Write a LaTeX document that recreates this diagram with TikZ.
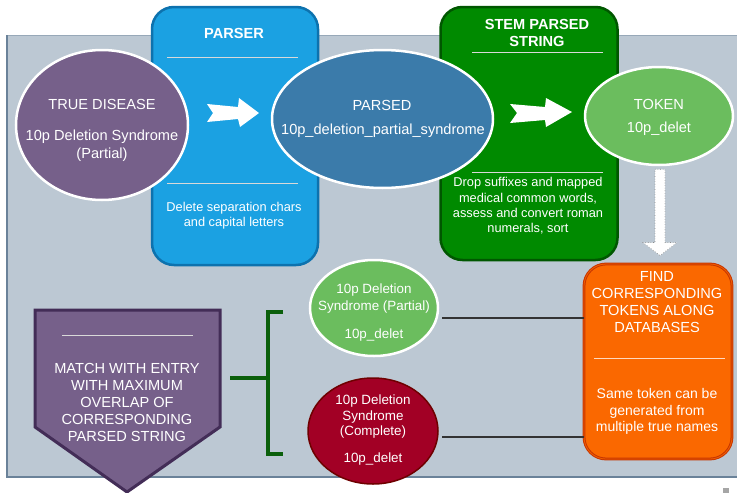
\documentclass[tikz,border=0pt]{standalone}
\usepackage{fontspec}
\setmainfont{Liberation Sans}
\usetikzlibrary{shapes.geometric,calc}
\definecolor{panelbg}{HTML}{BCC8D3}
\definecolor{panelline}{HTML}{6A8299}
\definecolor{parserblue}{HTML}{1BA1E2}
\definecolor{parserline}{HTML}{0D72AE}
\definecolor{stemgreen}{HTML}{008A00}
\definecolor{stemline}{HTML}{005700}
\definecolor{diseasepurple}{HTML}{76608A}
\definecolor{matchline}{HTML}{432D57}
\definecolor{parsedblue}{HTML}{3B7BAA}
\definecolor{tokengreen}{HTML}{6BBD5E}
\definecolor{completered}{HTML}{A20025}
\definecolor{completeline}{HTML}{6F0000}
\definecolor{findorange}{HTML}{FA6800}
\definecolor{findline}{HTML}{C73500}
\definecolor{bracegreen}{HTML}{0B5F0B}

\begin{document}
\begin{tikzpicture}[x=1pt,y=-1pt,
	stagebox/.style={rectangle,rounded corners=22pt,line width=2.5pt,inner sep=0pt},
	termcircle/.style={ellipse,draw=white,line width=2.5pt,inner sep=0pt},
	whitetext/.style={text=white,inner sep=0pt,align=center},
	rule/.style={draw=white!85!black,line width=0.8pt},
	link/.style={draw=black!80,line width=1.3pt},
	bracket/.style={draw=bracegreen,line width=4.5pt},
	blockarrow/.style={fill=white,draw=black!45,dotted,line width=0.6pt}]
	\newcommand{\mybigfont}{\fontsize{14.6}{17}\selectfont}
	\newcommand{\mymidfont}{\fontsize{13.4}{15.5}\selectfont}
	\newcommand{\mysmallfont}{\fontsize{12.8}{15.3}\selectfont}
	\useasboundingbox (0,0) rectangle (737,493);
	%Grey panel behind everything
	\fill[panelbg] (7,35) rectangle (737,477);
	\draw[panelline!70,line width=0.8pt] (737,35) -- (7,35);
	\draw[panelline,line width=1.5pt] (7,35) -- (7,477) -- (737,477);
	\fill[black!35] (723,488) rectangle (729,493);
	%Stage boxes
	\coordinate (parserC) at (235,136);
	\coordinate (stemC) at (529,133.5);
	\coordinate (findC) at (658,361.5);
	\node (parser) at (parserC) [stagebox,fill=parserblue,draw=parserline,minimum width=166pt,minimum height=258pt] {};
	\node (stem) at (stemC) [stagebox,fill=stemgreen,draw=stemline,minimum width=177pt,minimum height=253pt] {};
	\node (find) at (findC) [stagebox,fill=findorange,draw=findline,double=findorange!80!findline,double distance=0.8pt,line width=1pt,minimum width=148pt,minimum height=195pt] {};
	%Parser contents
	\node (parserTitle) at (234,33) [whitetext,font=\bfseries\mybigfont] {PARSER};
	\draw[rule] (167,57) -- (298,57);
	\draw[rule] (167,183) -- (298,183);
	\node (parserDesc) at (234,215.5) [whitetext,font=\mysmallfont] {Delete separation chars\\and capital letters};
	%Stem contents
	\node (stemTitle) at (537,33) [whitetext,font=\bfseries\mybigfont] {STEM PARSED\\STRING};
	\draw[rule] (472,52) -- (603,52);
	\draw[rule] (472,172) -- (603,172);
	\node (stemDesc) at (528,206) [whitetext,font=\mysmallfont] {Drop suffixes and mapped\\medical common words,\\assess and convert roman\\numerals, sort};
	%Find contents
	\node (findTitle) at (657,302) [whitetext,font=\fontsize{14.6}{16.7}\selectfont] {FIND\\CORRESPONDING\\TOKENS ALONG\\DATABASES};
	\draw[rule,draw=white!75!findorange] (594,358) -- (725,358);
	\node (findDesc) at (657,411.5) [whitetext,font=\fontsize{14}{16.5}\selectfont] {Same token can be\\generated from\\multiple true names};
	%White arrows inside the stage boxes
	\fill[white] (207,104) -- (238,107) -- (239,98) -- (259,113) -- (240,127) -- (238,119) -- (207,122) -- (213,113) -- cycle;
	\fill[white] (510,104) -- (545,107) -- (546,98) -- (572,112) -- (546,127) -- (545,120) -- (510,123) -- (517,113) -- cycle;
	%Ellipses of the top row
	\node (trueDisease) at (102,125) [termcircle,fill=diseasepurple,minimum width=172pt,minimum height=150pt] {};
	\node (parsed) at (382.5,119) [termcircle,fill=parsedblue,minimum width=221pt,minimum height=138pt] {};
	\node (token) at (659,116) [termcircle,fill=tokengreen,minimum width=148pt,minimum height=98pt] {};
	\node (trueTitle) at (102,104) [whitetext,font=\mybigfont] {TRUE DISEASE};
	\node (trueName) at (102,146) [whitetext,font=\fontsize{14.6}{18}\selectfont] {10p Deletion Syndrome\\(Partial)};
	\node (parsedTitle) at (382,105) [whitetext,font=\mybigfont] {PARSED};
	\node (parsedName) at (383,131) [whitetext,font=\mybigfont] {10p\_deletion\_partial\_syndrome};
	\node (tokenTitle) at (659,104) [whitetext,font=\mybigfont] {TOKEN};
	\node (tokenName) at (659,129) [whitetext,font=\mybigfont] {10p\_delet};
	%Dotted block arrow from token down to find
	\coordinate (dnA) at ($(token.south)+(1,3)$);
	\coordinate (dnB) at ($(find.north)+(2,-8)$);
	\draw[blockarrow] ($(dnA)+(-5,0)$) -- ($(dnA)+(5,0)$) -- ($(dnB)+(5,-13)$) -- ($(dnB)+(17,-13)$) -- (dnB) -- ($(dnB)+(-17,-13)$) -- ($(dnB)+(-5,-13)$) -- cycle;
	%Candidate entries
	\node (partial) at (374,308) [termcircle,fill=tokengreen,minimum width=128pt,minimum height=96pt] {};
	\node (complete) at (373,431) [termcircle,draw=completeline,fill=completered,line width=1.5pt,minimum width=130pt,minimum height=106pt] {};
	\node (partialName) at (374,298.5) [whitetext,font=\fontsize{13.4}{16.5}\selectfont] {10p Deletion\\Syndrome (Partial)};
	\node (partialToken) at (374,335) [whitetext,font=\mymidfont] {10p\_delet};
	\node (completeName) at (373,417) [whitetext,font=\mymidfont] {10p Deletion\\Syndrome\\(Complete)};
	\node (completeToken) at (373,459) [whitetext,font=\mymidfont] {10p\_delet};
	%Lines from the candidates to find
	\coordinate (lnA) at (442,318);
	\coordinate (lnB) at (442,437);
	\draw[link] (lnA) -- (lnA -| find.west);
	\draw[link] (lnB) -- (lnB -| find.west);
	%Match shape
	\filldraw[fill=diseasepurple,draw=matchline,line width=3pt,line join=miter] (35,310) -- (220,310) -- (220,427) -- (127,492) -- (35,427) -- cycle;
	\draw[rule] (62,335) -- (193,335);
	\node (matchText) at (127,402.5) [whitetext,font=\fontsize{14.6}{16.8}\selectfont] {MATCH WITH ENTRY\\WITH MAXIMUM\\OVERLAP OF\\CORRESPONDING\\PARSED STRING};
	%Bracket joining the candidates
	\coordinate (brTop) at (283,312);
	\coordinate (brBot) at (283,454);
	\coordinate (brMid) at (268,378);
	\coordinate (brStub) at (230,378);
	\draw[bracket] (brTop) -- (brTop -| brMid) -- (brBot -| brMid) -- (brBot);
	\draw[bracket] (brStub) -- (brMid);
\end{tikzpicture}
\end{document}
